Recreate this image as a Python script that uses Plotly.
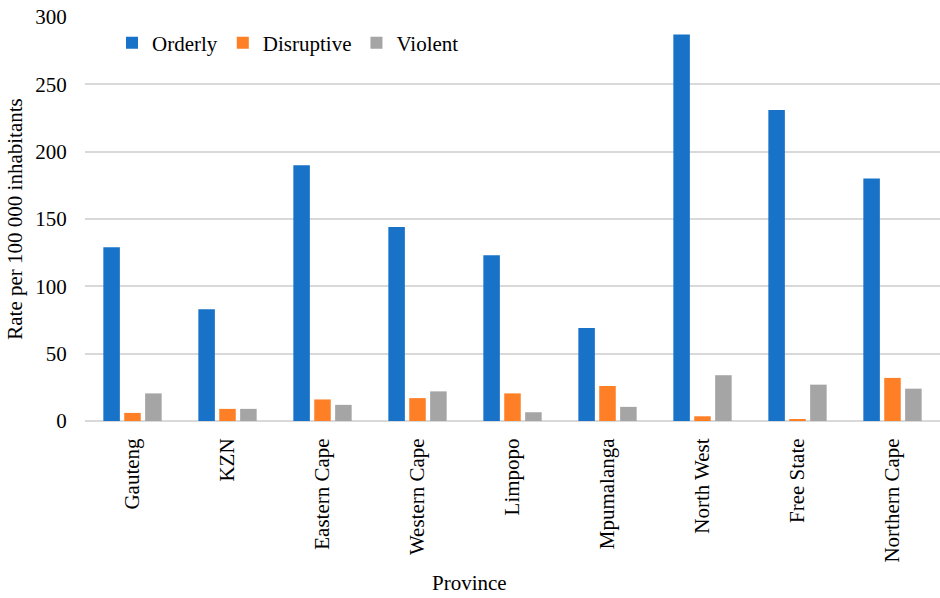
import plotly.graph_objects as go

provinces = ["Gauteng", "KZN", "Eastern Cape", "Western Cape", "Limpopo",
             "Mpumalanga", "North West", "Free State", "Northern Cape"]
orderly = [129, 83, 190, 144, 123, 69, 287, 231, 180]
disruptive = [6, 9, 16, 17, 20.5, 26, 3.5, 1.5, 32]
violent = [20.5, 9, 12, 22, 6.5, 10.5, 34, 27, 24]
y_ticks = [0, 50, 100, 150, 200, 250, 300]

FONT = "Liberation Serif, Times New Roman, serif"
colors = {"Orderly": "#1772C8", "Disruptive": "#FF7F27", "Violent": "#A5A5A5"}

fig = go.Figure()
for name, vals in [("Orderly", orderly), ("Disruptive", disruptive), ("Violent", violent)]:
    fig.add_trace(go.Bar(x=provinces, y=vals, name=name,
                         marker=dict(color=colors[name], line=dict(width=0))))

W, H = 940, 598
L, R, T, B = 85, 0, 17, 177
plot_w = W - L - R
plot_h = H - T - B

fig.update_layout(
    width=W, height=H,
    margin=dict(l=L, r=R, t=T, b=B, pad=0),
    paper_bgcolor="white", plot_bgcolor="white",
    font=dict(family=FONT, size=21, color="#000000"),
    barmode="group", bargap=0.34, bargroupgap=0.21,
    showlegend=True,
    legend=dict(orientation="h", x=(112 - L) / plot_w, xanchor="left",
                y=1 - (43 - T) / plot_h, yanchor="middle",
                bgcolor="rgba(0,0,0,0)", font=dict(family=FONT, size=21),
                itemwidth=30, traceorder="normal"),
    xaxis=dict(type="category", tickangle=-90, showgrid=False, showline=False,
               ticks="outside", ticklen=8, tickcolor="rgba(0,0,0,0)",
               tickfont=dict(family=FONT, size=21), automargin=False),
    yaxis=dict(range=[0, 300], tickvals=y_ticks, showgrid=True,
               gridcolor="#D9D9D9", gridwidth=1.5, zeroline=True,
               zerolinecolor="#D9D9D9", zerolinewidth=1.5, showline=False,
               ticks="outside", ticklen=13, tickcolor="rgba(0,0,0,0)",
               tickfont=dict(family=FONT, size=21), automargin=False,
               title=dict(text="Rate per 100 000 inhabitants",
                          font=dict(family=FONT, size=21), standoff=6)),
    annotations=[dict(text="Province", xref="paper", yref="paper",
                      x=(469 - L) / plot_w, y=-(583 - (H - B)) / plot_h,
                      xanchor="center", yanchor="middle", showarrow=False,
                      font=dict(family=FONT, size=21))],
)

fig.write_html("out.html")
